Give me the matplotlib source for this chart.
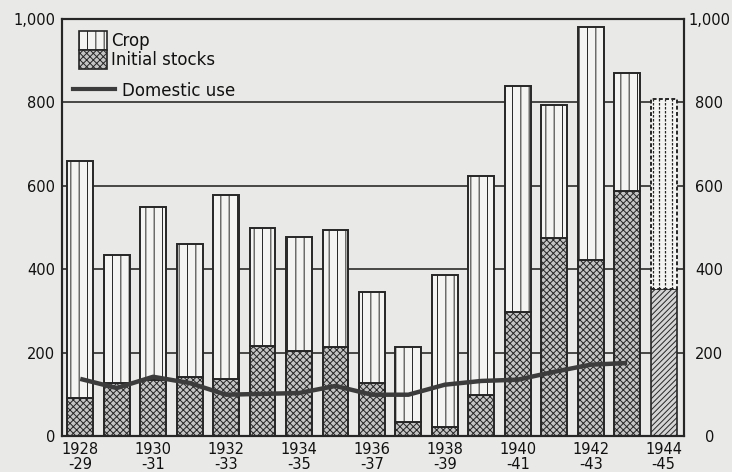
import matplotlib
matplotlib.use("Agg")
import matplotlib.pyplot as plt
import numpy as np
from matplotlib.patches import Patch
from matplotlib.lines import Line2D

years = ["1928\n-29", "1929\n-30", "1930\n-31", "1931\n-32", "1932\n-33", "1933\n-34",
         "1934\n-35", "1935\n-36", "1936\n-37", "1937\n-38", "1938\n-39", "1939\n-40",
         "1940\n-41", "1941\n-42", "1942\n-43", "1943\n-44", "1944\n-45"]
totals = [659, 433, 550, 461, 579, 500, 478, 495, 346, 214, 385, 623, 839, 793, 981, 871, 807]
stocks = [91, 127, 135, 142, 137, 216, 204, 214, 127, 34, 22, 99, 298, 476, 421, 587, 353]
domestic_use = [137, 115, 142, 127, 99, 101, 103, 120, 99, 99, 123, 132, 135, 154, 171, 175]
yticks = [0, 200, 400, 600, 800, 1000]
ytick_labels = ["0", "200", "400", "600", "800", "1,000"]

crop = [t - s for t, s in zip(totals, stocks)]

plt.rcParams['font.family'] = ['DejaVu Sans']
plt.rcParams['hatch.linewidth'] = 0.7

bg = '#e9e9e7'
fig = plt.figure(figsize=(7.32, 4.72), dpi=100, facecolor=bg)
ax = fig.add_axes([0.0847, 0.0763, 0.8493, 0.8834], facecolor=bg)

x = np.arange(len(years))
w = 0.71
n = len(years)
ink = '#262626'
txt = '#111111'
stock_face = '#c4c4c4'

for yv in yticks[1:-1]:
    ax.axhline(yv, color='#3a3a3a', lw=1.3, zorder=0)

# regular bars
for i in range(n - 1):
    ax.bar(x[i], stocks[i], width=w, color=stock_face, edgecolor=ink, hatch='xxxxx',
           linewidth=1.4, zorder=2)
    ax.bar(x[i], crop[i], bottom=stocks[i], width=w, color='#f4f4f2', edgecolor=ink,
           hatch='||', linewidth=1.4, zorder=2)

# estimated last bar
i = n - 1
ax.bar(x[i], stocks[i], width=w, color='#d4d4d4', edgecolor=ink, hatch='//////',
       linewidth=1.2, zorder=2)
ax.bar(x[i], crop[i], bottom=stocks[i], width=w, color='#f4f4f2', edgecolor=ink,
       linewidth=1.4, linestyle=(0, (2, 1.2)), zorder=2)
for f in [-0.28, -0.12, 0.05, 0.22]:
    ax.vlines(x[i] + f * w * 1.4, stocks[i], totals[i], colors=ink, lw=0.9,
              linestyles=(0, (2, 1.2)), zorder=3)

ax.plot(x[:len(domestic_use)], domestic_use, color='#3c3c3c', lw=3.2,
        solid_capstyle='butt', solid_joinstyle='round', zorder=4)

ax.set_xlim(-0.5, n - 1 + 0.55)
ax.set_ylim(0, 1000)
ax.set_yticks(yticks)
ax.set_yticklabels(ytick_labels, fontsize=10.5, color=txt)
ax.tick_params(axis='y', length=0, pad=5)
ax.set_xticks(x[::2])
ax.set_xticklabels(years[::2], fontsize=10.5, color=txt, linespacing=1.0)
ax.tick_params(axis='x', length=0, pad=4)

ax2 = ax.twinx()
ax2.set_ylim(0, 1000)
ax2.set_yticks(yticks)
ax2.set_yticklabels(ytick_labels, fontsize=10.5, color=txt)
for lab in ax2.get_yticklabels():
    lab.set_horizontalalignment('center')
ax2.tick_params(axis='y', length=0, pad=18.5)

for a in (ax, ax2):
    for s in a.spines.values():
        s.set_color(ink)
        s.set_linewidth(1.5)

patch_handles = [Patch(facecolor='#f4f4f2', edgecolor=ink, hatch='||', lw=1.2),
                 Patch(facecolor=stock_face, edgecolor=ink, hatch='xxxxx', lw=1.2)]
leg1 = ax.legend(patch_handles, ['Crop', 'Initial stocks'], loc='upper left',
                 bbox_to_anchor=(0.0273, 0.972), frameon=False, fontsize=12,
                 handlelength=1.68, handleheight=1.38, labelspacing=0.0,
                 handletextpad=0.25, borderpad=0.0, borderaxespad=0.0)
for t in leg1.get_texts():
    t.set_color(txt)
ax.add_artist(leg1)
line_handle = [Line2D([0], [0], color='#3c3c3c', lw=3)]
leg2 = ax.legend(line_handle, ['Domestic use'], loc='upper left',
                 bbox_to_anchor=(0.0177, 0.85), frameon=False, fontsize=12,
                 handlelength=2.5, handleheight=1.2, handletextpad=0.42,
                 borderpad=0.0, borderaxespad=0.0)
for t in leg2.get_texts():
    t.set_color(txt)

fig.savefig('out.png', dpi=100, facecolor=bg)
